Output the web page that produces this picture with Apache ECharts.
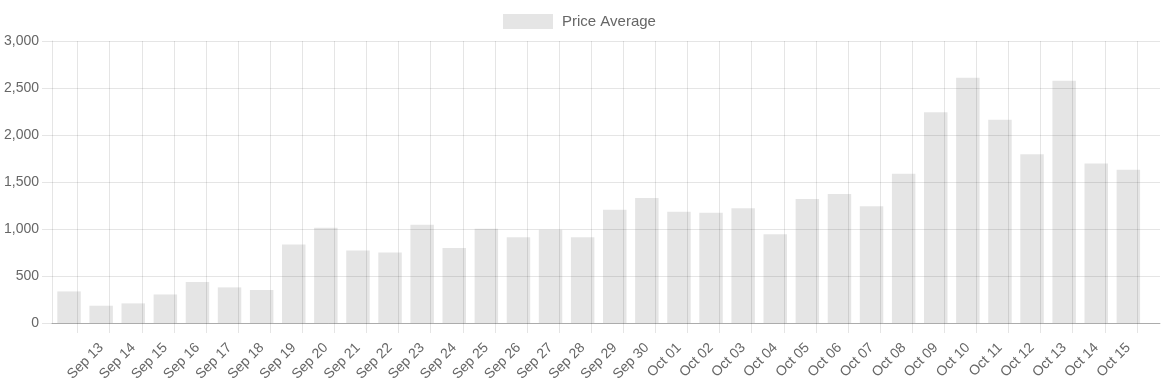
<!DOCTYPE html>
<html>
<head>
<meta charset="utf-8">
<script src="https://cdn.jsdelivr.net/npm/echarts@6/dist/echarts.min.js"></script>
<style>
html,body{margin:0;padding:0;background:#fff;}
#chart{width:1167px;height:386px;}
</style>
</head>
<body>
<div id="chart"></div>
<script>
const dates = ['Sep 12','Sep 13','Sep 14','Sep 15','Sep 16','Sep 17','Sep 18','Sep 19','Sep 20','Sep 21','Sep 22','Sep 23','Sep 24','Sep 25','Sep 26','Sep 27','Sep 28','Sep 29','Sep 30','Oct 01','Oct 02','Oct 03','Oct 04','Oct 05','Oct 06','Oct 07','Oct 08','Oct 09','Oct 10','Oct 11','Oct 12','Oct 13','Oct 14','Oct 15'];
const priceAverage = [336,184,209,304,436,379,351,836,1014,772,751,1046,798,1003,911,993,911,1205,1330,1184,1173,1220,943,1319,1373,1241,1589,2241,2610,2163,1794,2578,1698,1631];
const yTicks = {min:0, max:3000, interval:500};
const seriesName = 'Price Average';

const FONT = 'Liberation Sans, Arial, sans-serif';
const GRIDC = 'rgba(0,0,0,0.1)';
const chart = echarts.init(document.getElementById('chart'), null, {renderer:'canvas'});
const nCat = dates.length;
const band = 32.1;
const gTop = 41, gBottom = 63;
const gLeft = 52, gRight = 7;
const barLeft = 53;
const barRight = 1167 - barLeft - band * nCat;
const tickLeft = barLeft + band * 0.765;
const tickRight = 1167 - tickLeft - band * (nCat - 1);

chart.setOption({
  animation:false,
  textStyle:{fontFamily:FONT},
  legend:{
    data:[seriesName], top:14, left:503, padding:0, itemWidth:50, itemHeight:15, itemGap:10,
    textStyle:{color:'#666', fontSize:15, fontFamily:FONT, padding:[0,0,0,4]},
    icon:'rect'
  },
  grid:[
    {left:gLeft, right:gRight, top:gTop, bottom:gBottom},
    {left:barLeft, right:barRight, top:gTop, bottom:gBottom},
    {left:tickLeft, right:tickRight, top:gTop, bottom:gBottom}
  ],
  xAxis:[
    {gridIndex:0, type:'value', min:0, max:1, show:true,
      axisLine:{show:true, onZero:false, lineStyle:{color:'rgba(0,0,0,0.25)'}},
      axisTick:{show:false}, axisLabel:{show:false}, splitLine:{show:false}},
    {gridIndex:1, type:'category', data:dates, boundaryGap:true, show:false},
    {gridIndex:2, type:'value', min:0, max:nCat-1, interval:1,
      axisLine:{show:false},
      axisTick:{show:true, length:10, lineStyle:{color:GRIDC}},
      splitLine:{show:true, lineStyle:{color:GRIDC}},
      axisLabel:{show:true, rotate:45, margin:14, padding:[0,12,0,0], color:'#666', fontSize:14, fontFamily:FONT,
        formatter:function(v){ return v >= 1 ? dates[v] : ''; }}
    }
  ],
  yAxis:[
    {gridIndex:0, type:'value', min:yTicks.min, max:yTicks.max, interval:yTicks.interval,
      axisLine:{show:true, lineStyle:{color:GRIDC}},
      axisTick:{show:true, length:10, lineStyle:{color:GRIDC}},
      splitLine:{show:true, lineStyle:{color:GRIDC}},
      axisLabel:{color:'#666', fontSize:14, margin:13, fontFamily:FONT,
        formatter:function(v){ return v.toLocaleString('en-US'); }}
    },
    {gridIndex:1, type:'value', min:yTicks.min, max:yTicks.max, show:false},
    {gridIndex:2, type:'value', min:yTicks.min, max:yTicks.max, show:false}
  ],
  series:[
    {name:seriesName, type:'bar', xAxisIndex:1, yAxisIndex:1, data:priceAverage,
      barWidth:23.5, itemStyle:{color:'rgba(0,0,0,0.1)'}, z:1}
  ]
});
</script>
</body>
</html>
